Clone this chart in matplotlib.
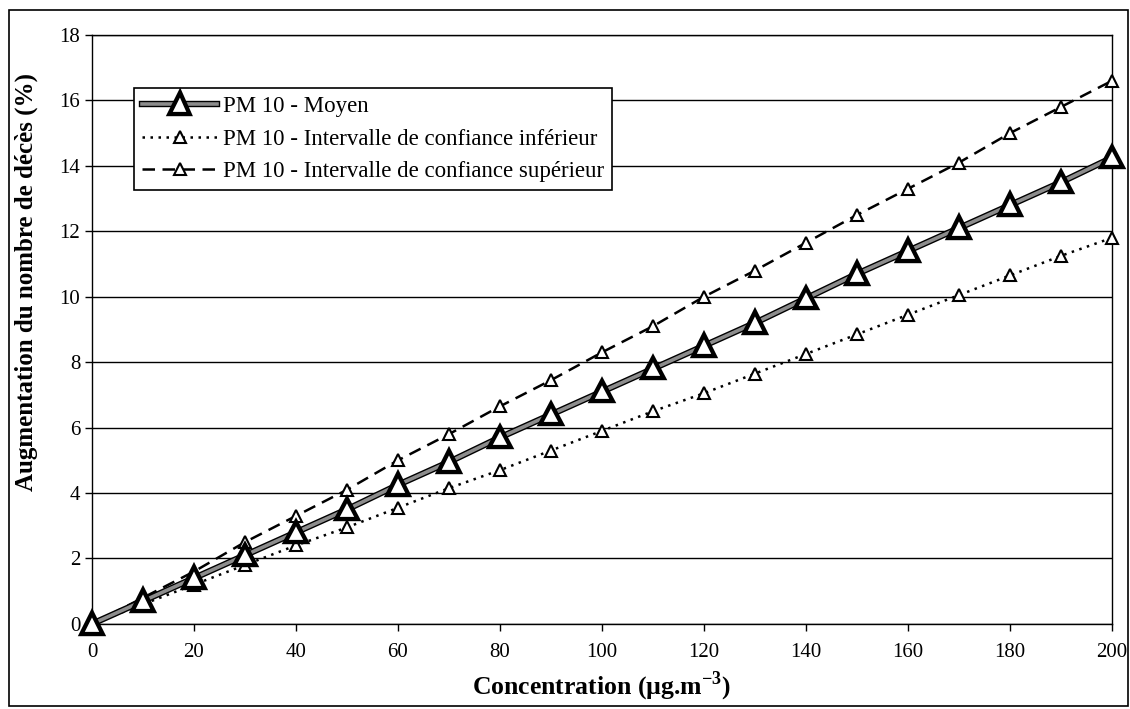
import matplotlib
matplotlib.use("Agg")
import matplotlib.pyplot as plt
import matplotlib.patheffects as pe
from matplotlib.patches import Rectangle

# data
concentration = [0, 10, 20, 30, 40, 50, 60, 70, 80, 90, 100,
                 110, 120, 130, 140, 150, 160, 170, 180, 190, 200]
moyen = [0, 0.7, 1.4, 2.1, 2.8, 3.5, 4.25, 4.95, 5.7, 6.4, 7.1,
         7.8, 8.5, 9.2, 9.95, 10.7, 11.4, 12.1, 12.8, 13.5, 14.25]
ic_inf = [0, 0.6, 1.2, 1.8, 2.4, 2.95, 3.55, 4.15, 4.7, 5.3, 5.9,
          6.5, 7.05, 7.65, 8.25, 8.85, 9.45, 10.05, 10.65, 11.25, 11.8]
ic_sup = [0, 0.8, 1.6, 2.5, 3.3, 4.1, 5.0, 5.8, 6.65, 7.45, 8.3,
          9.1, 10.0, 10.8, 11.65, 12.5, 13.3, 14.1, 15.0, 15.8, 16.6]

labels = ["PM 10 - Moyen",
          "PM 10 - Intervalle de confiance inférieur",
          "PM 10 - Intervalle de confiance supérieur"]

plt.rcParams['font.family'] = ['Liberation Serif', 'DejaVu Serif']
plt.rcParams['mathtext.fontset'] = 'custom'
plt.rcParams['mathtext.rm'] = 'Liberation Serif'
plt.rcParams['mathtext.bf'] = 'Liberation Serif:bold'

fig = plt.figure(figsize=(11.3, 7.09), dpi=100)
ax = fig.add_axes([0.0814, 0.12, 0.9026, 0.8306])

# outer frame round the whole chart
fig.patches.append(Rectangle((0.008, 0.004), 0.99, 0.982, transform=fig.transFigure,
                             fill=False, edgecolor='black', linewidth=1.2))

ax.plot(concentration, ic_inf, color='black', linestyle=(0, (1, 2.2)), linewidth=1.8,
        marker='^', markersize=8.5, markerfacecolor='white', markeredgecolor='black',
        markeredgewidth=1.5, label=labels[1], zorder=3, clip_on=False)
ax.plot(concentration, ic_sup, color='black', linestyle=(0, (5, 3)), linewidth=1.8,
        marker='^', markersize=8.5, markerfacecolor='white', markeredgecolor='black',
        markeredgewidth=1.5, label=labels[2], zorder=3, clip_on=False)
ax.plot(concentration, moyen, color='#8c8c8c', linewidth=2.6,
        marker='^', markersize=12.5, markerfacecolor='white', markeredgecolor='black',
        markeredgewidth=1.6, label=labels[0], zorder=4, clip_on=False,
        path_effects=[pe.Stroke(linewidth=4.6, foreground='black'), pe.Normal()])

ax.set_xlim(0, 200)
ax.set_ylim(0, 18)
ax.set_xticks(range(0, 201, 20))
ax.set_yticks(range(0, 19, 2))
ax.grid(axis='y', color='black', linewidth=1)
ax.set_axisbelow(True)
ax.tick_params(labelsize=15, direction='out', length=5, width=1)
ax.tick_params(axis='x', pad=9)
for s in ax.spines.values():
    s.set_linewidth(1)

ax.set_xlabel(r"Concentration (µg.m$^{\mathbf{-3}}$)", fontsize=18.5, fontweight='bold', labelpad=5)
ax.set_ylabel("Augmentation du nombre de décès (%)", fontsize=18, fontweight='bold')
ax.yaxis.set_label_coords(-0.053, 0.58)

handles, labs = ax.get_legend_handles_labels()
order = [2, 0, 1]
leg = ax.legend([handles[i] for i in order], [labs[i] for i in order],
                loc='upper left', bbox_to_anchor=(0.041, 0.91), fontsize=16.5,
                frameon=True, fancybox=False, shadow=False, edgecolor='black',
                framealpha=1, handlelength=3.3, handletextpad=0.25,
                labelspacing=0.5, borderpad=0.35, borderaxespad=0)
leg.get_frame().set_linewidth(1.2)

fig.savefig("out.png", dpi=100)
